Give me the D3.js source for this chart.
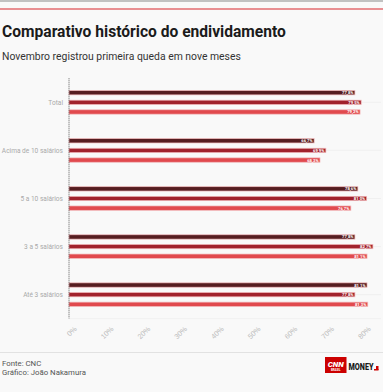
<!DOCTYPE html>
<html><head><meta charset="utf-8">
<script src="https://cdn.jsdelivr.net/npm/d3@7"></script>
<style>html,body{margin:0;padding:0;background:#f9f9f9;}svg{display:block;font-family:Roboto,"Noto Sans",sans-serif;}</style>
</head><body>
<script>
const categories = ["Total","Acima de 10 salários","5 a 10 salários","3 a 5 salários","Até 3 salários"];
const seriesNames = ["s1","s2","s3"];
const series1 = [77.8, 66.7, 78.6, 77.8, 81.1];
const series2 = [79.5, 69.9, 81.0, 82.7, 77.8];
const series3 = [79.2, 68.3, 76.7, 81.1, 81.3];
const tickValues = [0,10,20,30,40,50,60,70,80];
const colors = ["#561d20","#a1222c","#e14a4e"];

const W = 383, H = 392;
const svg = d3.select("body").append("svg").attr("width",W).attr("height",H);
svg.append("rect").attr("width",W).attr("height",H).attr("fill","#f9f9f9");

function condense(sel, f){ sel.each(function(){ const l=this.getComputedTextLength(); d3.select(this).attr("textLength",l*f).attr("lengthAdjust","spacingAndGlyphs"); }); }

// top rules
svg.append("line").attr("x1",0).attr("x2",W).attr("y1",1).attr("y2",1).attr("stroke","#8a8a8a").attr("stroke-width",1.2);
svg.append("line").attr("x1",0).attr("x2",W).attr("y1",9).attr("y2",9).attr("stroke","#d8262c").attr("stroke-width",1.2);

svg.append("text").attr("x",2).attr("y",37).attr("font-size",15.6).attr("font-weight",700).attr("fill","#1b1b1b")
  .text("Comparativo histórico do endividamento");
svg.append("text").attr("x",2).attr("y",60).attr("font-size",10.4).attr("fill","#333")
  .text("Novembro registrou primeira queda em nove meses");

const x = d3.scaleLinear().domain([0,80]).range([69,363]);
const y = d3.scaleBand().domain(categories).range([78.3,318.7]).padding(0);
const ySub = d3.scaleBand().domain(seriesNames).range([-17.1,17.1]).padding(0.55);

// gridlines
svg.append("g").selectAll("line").data(categories).join("line")
  .attr("x1",x(0)).attr("x2",381)
  .attr("y1",d=>y(d)+y.bandwidth()/2).attr("y2",d=>y(d)+y.bandwidth()/2)
  .attr("stroke","#eeeeee").attr("stroke-width",0.8);
svg.append("line").attr("x1",x(0)).attr("x2",381).attr("y1",y.range()[1]).attr("y2",y.range()[1]).attr("stroke","#eeeeee").attr("stroke-width",0.8);

const data = categories.map((c,i)=>({cat:c, vals:[series1[i],series2[i],series3[i]]}));
const g = svg.append("g").selectAll("g").data(data).join("g")
  .attr("transform",d=>`translate(0,${y(d.cat)+y.bandwidth()/2})`);
g.selectAll("rect").data(d=>d.vals.map((v,j)=>({v,s:seriesNames[j],j}))).join("rect")
  .attr("x",x(0)).attr("y",d=>ySub(d.s)).attr("width",d=>x(d.v)-x(0)).attr("height",ySub.bandwidth())
  .attr("fill",d=>colors[d.j]).attr("stroke","#f2b9bb").attr("stroke-width",0.7);
g.selectAll("text").data(d=>d.vals.map((v,j)=>({v,s:seriesNames[j],j}))).join("text")
  .attr("x",d=>x(d.v)-1.5).attr("y",d=>ySub(d.s)+ySub.bandwidth()/2+1.5)
  .attr("text-anchor","end").attr("font-size",4.2).attr("font-weight",700).attr("fill","#fff")
  .text(d=>d3.format(".1f")(d.v).replace(".",",")+"%");

// category labels
const catLabels = svg.append("g").selectAll("text").data(categories).join("text")
  .attr("x",63).attr("y",d=>y(d)+y.bandwidth()/2+2.8).attr("text-anchor","end")
  .attr("font-size",8).attr("fill","#a9a9a9").text(d=>d);
condense(catLabels, 0.82);

// axis zero line (dotted)
svg.append("line").attr("x1",x(0)).attr("x2",x(0)).attr("y1",y.range()[0]).attr("y2",y.range()[1])
  .attr("stroke","#333").attr("stroke-width",0.8).attr("stroke-dasharray","1,1");

// x axis
const xAxis = svg.append("g").attr("transform",`translate(0,${y.range()[1]})`)
  .call(d3.axisBottom(x).tickValues(tickValues).tickSize(0).tickFormat(d=>d+"%"));
xAxis.select(".domain").remove();
xAxis.selectAll("text").attr("fill","#bdbdbd").attr("font-size",7.2)
  .attr("text-anchor","end").attr("transform","translate(2,5) rotate(-45)").attr("dy","0.7em").attr("dx","0");

// footer
svg.append("line").attr("x1",0).attr("x2",W).attr("y1",352.5).attr("y2",352.5).attr("stroke","#e2e2e2").attr("stroke-width",1);
svg.append("text").attr("x",2).attr("y",366).attr("font-size",7.8).attr("fill","#555").text("Fonte: CNC");
svg.append("text").attr("x",2).attr("y",375).attr("font-size",7.8).attr("fill","#555").text("Gráfico: João Nakamura");
// logo
svg.append("rect").attr("x",325).attr("y",357).attr("width",21.5).attr("height",16).attr("fill","#cc0000");
svg.append("text").attr("x",335.7).attr("y",366.5).attr("text-anchor","middle").attr("font-size",8).attr("font-weight",900).attr("fill","#fff").attr("font-style","italic").text("CNN");
svg.append("text").attr("x",335.7).attr("y",371).attr("text-anchor","middle").attr("font-size",2.8).attr("font-weight",700).attr("fill","#fff").text("BRASIL");
svg.append("text").attr("x",348.5).attr("y",370).attr("font-size",9.5).attr("font-weight",900).attr("fill","#1a1a1a").attr("textLength",25).attr("lengthAdjust","spacingAndGlyphs").text("MONEY");
svg.append("rect").attr("x",376).attr("y",366).attr("width",2.5).attr("height",4).attr("fill","#cc0000");
svg.append("rect").attr("x",374).attr("y",369).attr("width",4.5).attr("height",1.5).attr("fill","#cc0000");
</script>
</body></html>
